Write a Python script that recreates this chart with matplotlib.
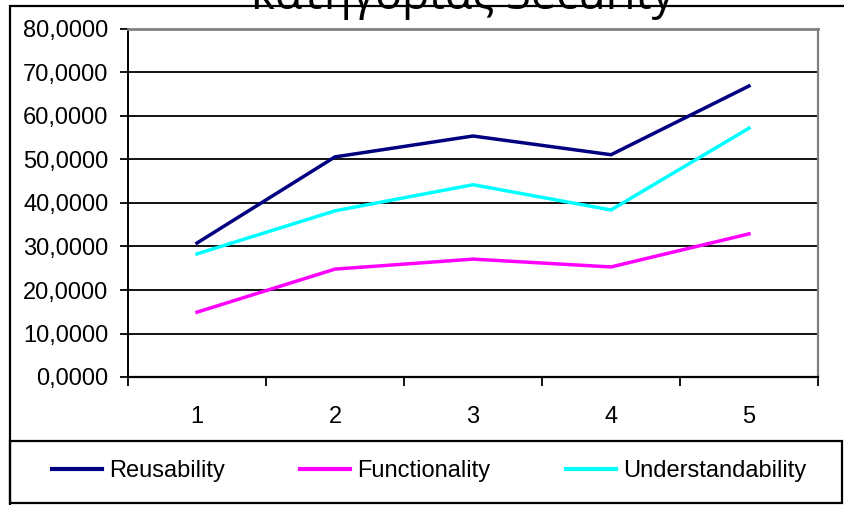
import matplotlib
matplotlib.use('Agg')
import matplotlib.pyplot as plt
from matplotlib.patches import Rectangle
from matplotlib.lines import Line2D

# data
categories = [1, 2, 3, 4, 5]
reusability = [30.8, 50.6, 55.4, 51.1, 66.9]
functionality = [14.9, 24.8, 27.1, 25.3, 32.9]
understandability = [28.3, 38.2, 44.2, 38.4, 57.2]
series_names = ['Reusability', 'Functionality', 'Understandability']
y_ticks = [0, 10, 20, 30, 40, 50, 60, 70, 80]
title_text = 'κατηγορίας Security'

plt.rcParams['font.family'] = ['Liberation Sans', 'DejaVu Sans']

W, H = 844, 505
fig = plt.figure(figsize=(W / 100, H / 100), dpi=100)
ax = fig.add_axes([128 / W, 1 - 377 / H, (818 - 128) / W, (377 - 29) / H])

colors = ['#000080', '#FF00FF', '#00FFFF']
for vals, c, name in zip([reusability, functionality, understandability], colors, series_names):
    ax.plot(categories, vals, color=c, lw=2.5, label=name, zorder=3,
            solid_joinstyle='miter')

fs = 17
ax.set_xlim(0.5, 5.5)
ax.set_ylim(0, 80)
ax.set_yticks(y_ticks)
ax.set_yticklabels([f'{v:.4f}'.replace('.', ',') for v in y_ticks])
ax.set_xticks([c - 0.5 for c in categories] + [categories[-1] + 0.5])
ax.set_xticklabels([])
ax.set_xticks(categories, minor=True)
ax.set_xticklabels([str(c) for c in categories], minor=True)
ax.tick_params(axis='x', which='major', direction='out', length=6.5, width=1.3, color='black')
ax.tick_params(axis='x', which='minor', length=0, pad=21, labelsize=fs)
ax.tick_params(axis='y', direction='out', length=6, width=1.3, pad=8, labelsize=fs)

for v in y_ticks[1:-1]:
    ax.axhline(v, color='black', lw=1.3, zorder=1)

ax.spines['left'].set_color('black')
ax.spines['left'].set_linewidth(1.4)
ax.spines['bottom'].set_color('black')
ax.spines['bottom'].set_linewidth(1.6)
ax.spines['top'].set_color('#808080')
ax.spines['top'].set_linewidth(2)
ax.spines['right'].set_color('#808080')
ax.spines['right'].set_linewidth(1.6)

# outer chart border (runs off the right and bottom edges)
fig.patches.append(Rectangle((10 / W, -0.1), 1.2, 1.1 - 6 / H, transform=fig.transFigure,
                             fill=False, ec='black', lw=1.6))
# legend box
fig.patches.append(Rectangle((10 / W, 1 - 503 / H), (842 - 10) / W, (503 - 441) / H,
                             transform=fig.transFigure, fill=False, ec='black', lw=1.6))

handles = [Line2D([], [], color=c, lw=3) for c in colors]
fig.legend(handles, series_names, loc='center', bbox_to_anchor=(429 / W, 1 - 471 / H),
           ncol=3, frameon=False, fontsize=fs, handlelength=50 / (fs * 100 / 72),
           handletextpad=0.3, columnspacing=3.2, borderpad=0)

title = fig.text(463 / W, 1 - 9 / H, title_text, ha='center', va='baseline',
                 fontsize=28, family=['Open Sans', 'DejaVu Sans'])
fig.canvas.draw()
w = title.get_window_extent().width
title.set_fontsize(28 * 423 / w)

fig.savefig('out.png', dpi=100)
